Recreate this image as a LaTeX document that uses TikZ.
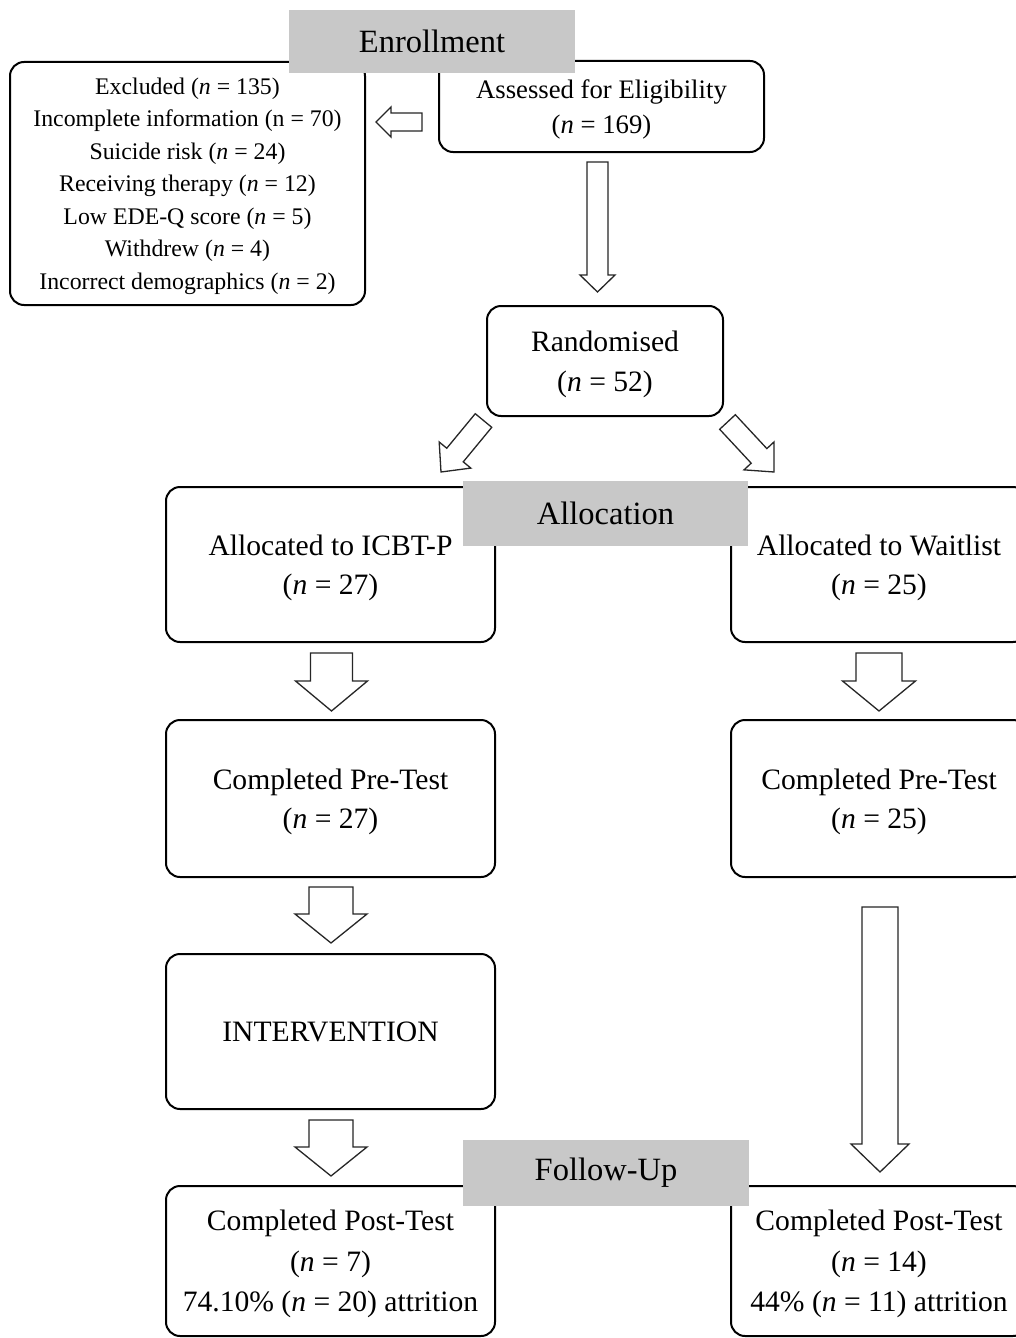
\documentclass[tikz,border=0pt]{standalone}
\usepackage{fontspec}
\setmainfont{Liberation Serif}
\usetikzlibrary{calc}
\definecolor{labelgrey}{RGB}{200,200,200}
\newcommand\mainfs{\fontsize{29.6}{39.5}\selectfont}
\newcommand\postfs{\fontsize{29.6}{40.5}\selectfont}
\newcommand\exclfs{\fontsize{23.8}{32.5}\selectfont}
\newcommand\assessfs{\fontsize{26.7}{35}\selectfont}
\newcommand\labelfs{\fontsize{32.5}{36}\selectfont}
% hollow block arrow from named coordinate #1 to #2: shaft half-width #3, head half-width #4, head length #5
\newcommand\blockarrow[5]{%
  \path ($(#2)!#5!(#1)$) coordinate (ba-c);
  \draw[barrow] ($(#1)!#3!90:(#2)$) -- ($(ba-c)!#3!90:(#2)$) -- ($(ba-c)!#4!90:(#2)$) -- (#2)
    -- ($(ba-c)!#4!-90:(#2)$) -- ($(ba-c)!#3!-90:(#2)$) -- ($(#1)!#3!-90:(#2)$) -- cycle;}
\tikzset{
  box/.style={draw, line width=2pt, rounded corners=14pt, align=center, inner sep=0pt, text depth=0pt, font=\mainfs},
  glabel/.style={fill=labelgrey, inner sep=0pt, font=\labelfs},
  barrow/.style={draw=black!85, line width=1.3pt, fill=white, line join=miter}
}
\begin{document}
\begin{tikzpicture}[x=1pt, y=-1pt]
\useasboundingbox (0,0) rectangle (1016,1338);
\clip (0,0) rectangle (1016,1338);
\fill[white] (0,0) rectangle (1016,1338);

% boxes
\node[box, font=\exclfs, minimum width=355pt, minimum height=243pt] (excl) at (187.5,183.5)
  {Excluded (\textit{n} = 135)\\Incomplete information (n = 70)\\Suicide risk (\textit{n} = 24)\\Receiving therapy (\textit{n} = 12)\\Low EDE-Q score (\textit{n} = 5)\\Withdrew (\textit{n} = 4)\\Incorrect demographics (\textit{n} = 2)};
\node[box, font=\assessfs, minimum width=325pt, minimum height=91pt] (assess) at (601.5,106.5)
  {Assessed for Eligibility\\(\textit{n} = 169)};
\node[box, minimum width=236pt, minimum height=110pt] (rand) at (605,361)
  {Randomised\\(\textit{n} = 52)};
\node[box, minimum width=329pt, minimum height=155pt] (alloc1) at (330.5,564.5)
  {Allocated to ICBT-P\\(\textit{n} = 27)};
\node[box, minimum width=296pt, minimum height=155pt] (alloc2) at (879,564.5)
  {Allocated to Waitlist\\(\textit{n} = 25)};
\node[box, minimum width=329pt, minimum height=157pt] (pre1) at (330.5,798.5)
  {Completed Pre-Test\\(\textit{n} = 27)};
\node[box, minimum width=296pt, minimum height=157pt] (pre2) at (879,798.5)
  {Completed Pre-Test\\(\textit{n} = 25)};
\node[box, minimum width=329pt, minimum height=155pt] (interv) at (330.5,1031.5)
  {INTERVENTION};
\node[box, font=\postfs, minimum width=329pt, minimum height=150pt] (post1) at (330.5,1261)
  {Completed Post-Test\\(\textit{n} = 7)\\74.10\% (\textit{n} = 20) attrition};
\node[box, font=\postfs, minimum width=296pt, minimum height=150pt] (post2) at (879,1261)
  {Completed Post-Test\\(\textit{n} = 14)\\44\% (\textit{n} = 11) attrition};

% arrow end points
\coordinate (a0s) at ($(assess.west)+(-16,15.5)$);
\coordinate (a0e) at ($(excl.east)+(10,-61.5)$);
\coordinate (a1s) at ($(assess.south)+(-4,9)$);
\coordinate (a1e) at ($(rand.north)+(-7.5,-13)$);
\coordinate (a2s) at ($(rand.south west)+(-2.5,3.5)$);
\coordinate (a2e) at ($(alloc1.north east)+(-55,-14)$);
\coordinate (a3s) at ($(rand.south east)+(3.5,5)$);
\coordinate (a3e) at ($(alloc2.north west)+(44,-14)$);
\coordinate (a4s) at ($(alloc1.south)+(1,10)$);
\coordinate (a4e) at ($(pre1.north)+(1,-8)$);
\coordinate (a5s) at ($(alloc2.south)+(0,10)$);
\coordinate (a5e) at ($(pre2.north)+(0,-8)$);
\coordinate (a6s) at ($(pre1.south)+(0.5,9)$);
\coordinate (a6e) at ($(interv.north)+(0.5,-10)$);
\coordinate (a7s) at ($(interv.south)+(0.5,10)$);
\coordinate (a7e) at ($(post1.north)+(0.5,-9)$);
\coordinate (a8s) at ($(pre2.south)+(1,29)$);
\coordinate (a8e) at ($(post2.north)+(1,-13)$);

% hollow arrows
\blockarrow{a0s}{a0e}{9pt}{15pt}{15pt}
\blockarrow{a1s}{a1e}{10.5pt}{17.5pt}{17pt}
\blockarrow{a2s}{a2e}{10.7pt}{20.5pt}{22pt}
\blockarrow{a3s}{a3e}{10.7pt}{20.5pt}{22pt}
\blockarrow{a4s}{a4e}{21pt}{36pt}{30pt}
\blockarrow{a5s}{a5e}{23pt}{36.5pt}{30pt}
\blockarrow{a6s}{a6e}{22pt}{36pt}{29pt}
\blockarrow{a7s}{a7e}{22pt}{36pt}{29pt}
\blockarrow{a8s}{a8e}{18pt}{29pt}{28pt}

% grey stage labels
\node[glabel, minimum width=286pt, minimum height=63pt] (enroll) at (432,41.5) {Enrollment};
\node[glabel, minimum width=285pt, minimum height=65pt] (allocl) at (605.5,513.5) {Allocation};
\node[glabel, minimum width=286pt, minimum height=66pt] (follow) at (606,1173) {Follow-Up};
\end{tikzpicture}
\end{document}
